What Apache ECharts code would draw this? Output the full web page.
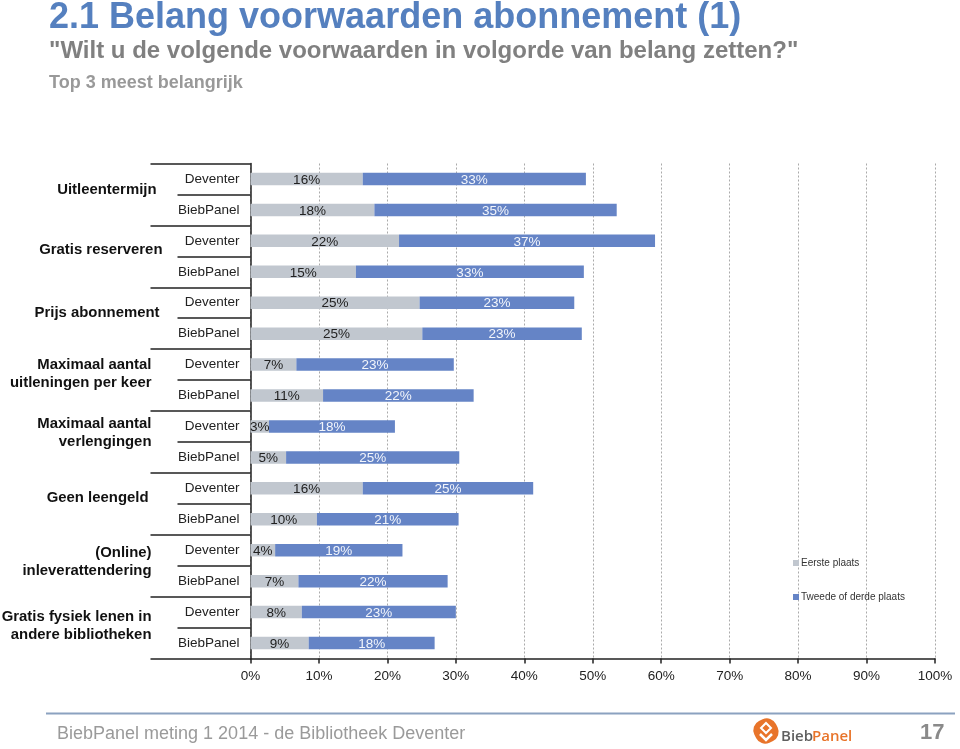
<!DOCTYPE html>
<html><head><meta charset="utf-8">
<style>html,body{margin:0;padding:0;background:#fff}#c{width:960px;height:749px}</style>
<script src="https://cdn.jsdelivr.net/npm/echarts@6/dist/echarts.min.js"></script>
</head><body><div id="c"></div>
<script>
const rows = ['Deventer','BiebPanel','Deventer','BiebPanel','Deventer','BiebPanel','Deventer','BiebPanel','Deventer','BiebPanel','Deventer','BiebPanel','Deventer','BiebPanel','Deventer','BiebPanel'];
const groups = ['Uitleentermijn','Gratis reserveren','Prijs abonnement','Maximaal aantal\nuitleningen per keer','Maximaal aantal\nverlengingen','Geen leengeld','(Online)\ninleverattendering','Gratis fysiek lenen in\nandere bibliotheken'];
const eerste = [16.4,18.1,21.7,15.4,24.7,25.1,6.7,10.6,2.7,5.2,16.4,9.7,3.6,7.0,7.5,8.5];
const tweede = [32.6,35.4,37.4,33.3,22.6,23.3,23.0,22.0,18.4,25.3,24.9,20.7,18.6,21.8,22.5,18.4];

// layout only: per-label nudges of the group captions [right, up]
const groupNudge = [[6,5],[0,6],[3,5],[11,6],[11,9],[14,6],[11,4],[11,2]];
const font = '"Liberation Sans", Arial, sans-serif';
const chart = echarts.init(document.getElementById('c'), null, {renderer:'canvas'});
const pctLabel = (color) => ({show:true, position:'inside', offset:[0,1], color, fontFamily:font, fontSize:13.5,
  formatter:p => Math.round(p.value)+'%'});
const groupStyle = {color:'#111', fontFamily:font, fontSize:14.9, fontWeight:'bold', lineHeight:18, align:'right'};
const groupRich = {g:groupStyle};
groupNudge.forEach(n => { groupRich['s'+n[1]] = {height:n[1]*2, lineHeight:n[1]*2, fontSize:1, color:'transparent', align:'right'}; });
chart.setOption({
  animation:false,
  backgroundColor:'#fff',
  title:[
    {text:'2.1 Belang voorwaarden abonnement (1)', left:44, top:-5, textStyle:{color:'#5580bf', fontFamily:font, fontWeight:'bold', fontSize:36}},
    {text:'"Wilt u de volgende voorwaarden in volgorde van belang zetten?"', left:44, top:34, textStyle:{color:'#808080', fontFamily:font, fontWeight:'bold', fontSize:24}},
    {text:'Top 3 meest belangrijk', left:44, top:69, textStyle:{color:'#999', fontFamily:font, fontWeight:'bold', fontSize:18}}
  ],
  legend:{orient:'vertical', left:788, top:553, itemWidth:6, itemHeight:6, itemGap:24, icon:'rect',
    textStyle:{fontFamily:font, fontSize:10, color:'#333', padding:[0,0,0,-3]},
    data:['Eerste plaats','Tweede of derde plaats']},
  grid:{left:250.5, right:25, top:163.5, bottom:90.5, containLabel:false, outerBoundsMode:'none'},
  xAxis:{type:'value', min:0, max:100, interval:10,
    axisLine:{show:true, lineStyle:{color:'#222', width:1.5}},
    axisTick:{show:true, length:5, lineStyle:{color:'#222', width:1.5}},
    axisLabel:{formatter:'{value}%', color:'#222', fontFamily:font, fontSize:13.5, margin:11},
    splitLine:{show:true, lineStyle:{color:'#aaa', type:[2,2], width:1}}},
  yAxis:[
    {type:'category', inverse:true, data:rows,
      axisLine:{show:true, lineStyle:{color:'#222', width:1.5}},
      axisTick:{show:true, length:73, interval:0, lineStyle:{color:'#222', width:1.5}},
      axisLabel:{interval:0, color:'#222', fontFamily:font, fontSize:13.5, margin:11}},
    {type:'category', inverse:true, position:'left',
      data:groups.map((g,i)=>({value:g, textStyle:{padding:[0,groupNudge[i][0],0,0]}})),
      axisLine:{show:false},
      axisTick:{show:true, length:100, interval:0, lineStyle:{color:'#222', width:1.5}},
      axisLabel:{interval:0, margin:88, align:'right', rich:groupRich,
        formatter:(v,i)=> v.split('\n').map(l=>'{g|'+l+'}').join('\n') + '\n{s'+groupNudge[i][1]+'| }'}}
  ],
  series:[
    {name:'Eerste plaats', type:'bar', stack:'a', yAxisIndex:0, barWidth:12.5, data:eerste,
      itemStyle:{color:'#c1c7cf'}, label:pctLabel('#222')},
    {name:'Tweede of derde plaats', type:'bar', stack:'a', yAxisIndex:0, barWidth:12.5, data:tweede,
      itemStyle:{color:'#6584c6'}, label:pctLabel('#f2f5fb')}
  ],
  graphic:[
    {type:'line', shape:{x1:46,y1:713.5,x2:955,y2:713.5}, style:{stroke:'#8ba2c0', lineWidth:2}},
    {type:'text', x:57, y:725, style:{text:'BiebPanel meting 1 2014 - de Bibliotheek Deventer', fill:'#9a9a9a', font:'18px '+font}},
    {type:'text', x:920, y:722, style:{text:'17', fill:'#8a8a8a', font:'bold 22px '+font}},
    {type:'text', x:781, y:729, style:{text:'Bieb', fill:'#5f5f5f', font:'600 15px "Open Sans", sans-serif'}},
    {type:'text', x:812, y:729, style:{text:'Panel', fill:'#e8742a', font:'600 15px "Open Sans", sans-serif'}},
    {type:'rect', x:766, y:731, originX:0, originY:0, rotation:0.45, shape:{x:-12,y:-12,width:24,height:24,r:10}, style:{fill:'#e8742a'}},
    {type:'polyline', shape:{points:[[760,734],[766,740],[772,734]]}, style:{stroke:'#fff', lineWidth:2.5, fill:null}},
    {type:'polygon', shape:{points:[[766,723],[771,728],[766,733],[761,728]]}, style:{stroke:'#fff', lineWidth:2, fill:null}}
  ]
});
</script></body></html>
